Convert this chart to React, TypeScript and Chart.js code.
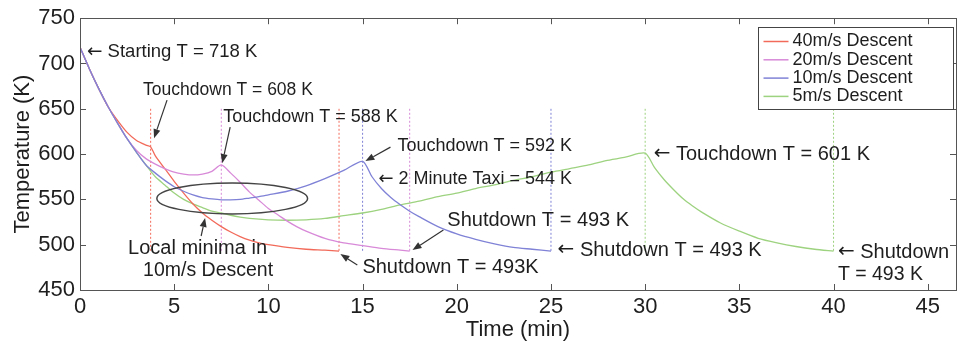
import React, { useEffect, useRef } from 'react';
import { Chart, registerables } from 'chart.js';

Chart.register(...registerables);

// ---------- data ----------
const seriesLabels = ['40m/s Descent', '20m/s Descent', '10m/s Descent', '5m/s Descent'];
const seriesColors = ['#f26a5a', '#d88ad8', '#7f82d6', '#9dd27f'];

const time40 = [0, 0.5, 1, 1.5, 2, 2.5, 3, 3.5, 3.75, 4, 4.5, 5, 5.5, 6, 6.5, 7, 7.5, 8, 8.5, 9, 9.5, 10, 11, 12, 13, 13.75];
const temp40 = [718, 694, 672, 652, 637, 624, 615, 610, 608, 598, 584, 570, 557, 545, 535, 527, 520, 514, 509, 505, 502, 500, 497, 495, 494, 493];

const time20 = [0, 0.5, 1, 1.5, 2, 2.5, 3, 3.5, 4, 4.5, 5, 5.5, 6, 6.5, 7, 7.5, 8, 8.5, 9, 9.5, 10, 10.5, 11, 11.5, 12, 13, 14, 15, 16, 17, 17.5];
const temp20 = [718, 694, 672, 652, 634, 617, 604, 595, 589, 584, 580, 578, 577, 578, 581, 588, 579, 569, 558, 549, 540, 533, 526, 520, 515, 507, 502, 499, 496, 494, 493];

const time10 = [0, 0.5, 1, 1.5, 2, 2.5, 3, 3.5, 4, 4.5, 5, 5.5, 6, 6.5, 7, 7.5, 8, 8.5, 9, 9.5, 10, 11, 12, 13, 14, 15, 15.5, 16, 16.5, 17, 17.5, 18, 19, 20, 21, 22, 23, 24, 25];
const temp10 = [718, 694, 672, 652, 634, 617, 602, 588, 579, 571, 564, 559, 555, 552, 550.5, 549.5, 549.5, 550, 551.5, 553, 555, 559, 565, 573, 582, 592, 575, 562, 552, 544, 537, 531, 520, 512, 506, 501, 497, 495, 493];

const time5 = [0, 0.5, 1, 1.5, 2, 2.5, 3, 3.5, 4, 4.5, 5, 5.5, 6, 6.5, 7, 7.5, 8, 8.5, 9, 10, 11, 12, 13, 14, 15, 16, 17, 18, 19, 20, 21, 22, 23, 24, 25, 26, 27, 28, 29, 30, 30.5, 31, 31.5, 32, 32.5, 33, 34, 35, 36, 37, 38, 39, 40];
const temp5 = [718, 694, 672, 652, 634, 617, 602, 588, 575, 566, 557, 550, 545, 541, 537, 535, 532.5, 530.5, 529, 527.5, 527, 527.5, 529, 532, 535, 539, 544, 548, 553, 557, 562, 566, 571, 575, 580, 584, 588, 593, 597, 601, 585, 572, 561, 551, 543, 536, 524, 515, 507, 502, 498, 495, 493];

// touchdown / shutdown event times (dotted verticals)
const events40 = [3.75, 13.75];
const events20 = [7.5, 17.5];
const events10 = [15, 25];
const events5 = [30, 40];
const markerTopK = 650;
const markerBottomK = 493;

const xTickValues = [0, 5, 10, 15, 20, 25, 30, 35, 40, 45];
const yTickValues = [450, 500, 550, 600, 650, 700, 750];
const xMin = 0;
const xMax = 46.5;
const yMin = 450;
const yMax = 750;

// ellipse around local minima (data units)
const ellipseCenterT = 8.08;
const ellipseCenterK = 551;
const ellipseHalfT = 4.0;
const ellipseHalfK = 17;

// text notes (data coordinates)
const noteTexts = [
  '\u2190 Starting T = 718 K',
  'Touchdown T = 608 K',
  'Touchdown T = 588 K',
  'Touchdown T = 592 K',
  '\u2190 2 Minute Taxi = 544 K',
  'Shutdown T = 493 K',
  '\u2190 Shutdown T = 493 K',
  'Shutdown T = 493K',
  '\u2190 Touchdown T = 601 K',
  '\u2190 Shutdown',
  'T = 493 K',
  'Local minima in',
  '10m/s Descent',
];
const noteT = [0.37, 3.35, 7.6, 16.85, 15.84, 19.5, 25.35, 14.99, 30.45, 40.23, 40.23, 6.24, 6.8];
const noteK = [713, 671, 641, 609, 572.4, 527.2, 494.1, 475.4, 600, 491.9, 466.6, 496.3, 471];
const noteAlign = ['left', 'left', 'left', 'left', 'left', 'left', 'left', 'left', 'left', 'left', 'left', 'center', 'center'];
const noteSize = [18.5, 17.5, 18, 18, 18, 20, 20, 20, 20, 20, 19.5, 20, 19.5];

// arrows (from -> to, data coordinates)
const arrowFromT = [4.62, 7.97, 16.48, 19.29, 14.72, 6.43];
const arrowFromK = [659.6, 629.8, 607.7, 516.2, 477.6, 509.6];
const arrowToT = [3.93, 7.55, 15.15, 17.65, 13.82, 6.64];
const arrowToK = [617.6, 590, 592.3, 494.1, 489.7, 529.4];

// ---------- helpers ----------
const zip = (ts: number[], ks: number[]) => ts.map((t, i) => ({ x: t, y: ks[i] }));

const FONT = '"Liberation Sans", Arial, Helvetica, sans-serif';
const ARROW_FONT = '"DejaVu Sans", sans-serif';
const TEXT_COLOR = '#1e1e1e';
const AXIS_COLOR = '#555555';

const annotationPlugin = {
  id: 'figureAnnotations',
  afterDatasetsDraw(chart: any) {
    const { ctx, chartArea, scales } = chart;
    const xs = scales.x;
    const ys = scales.y;
    const { left, right, top, bottom } = chartArea;
    ctx.save();

    // frame box
    ctx.strokeStyle = AXIS_COLOR;
    ctx.lineWidth = 1;
    ctx.strokeRect(Math.round(left) + 0.5, Math.round(top) + 0.5, Math.round(right - left), Math.round(bottom - top));

    // inward ticks
    const tl = 6;
    ctx.beginPath();
    xTickValues.forEach((v) => {
      const px = Math.round(xs.getPixelForValue(v)) + 0.5;
      ctx.moveTo(px, bottom);
      ctx.lineTo(px, bottom - tl);
      ctx.moveTo(px, top);
      ctx.lineTo(px, top + tl);
    });
    yTickValues.forEach((v) => {
      const py = Math.round(ys.getPixelForValue(v)) + 0.5;
      ctx.moveTo(left, py);
      ctx.lineTo(left + tl, py);
      ctx.moveTo(right, py);
      ctx.lineTo(right - tl, py);
    });
    ctx.stroke();

    // ellipse
    const cx = xs.getPixelForValue(ellipseCenterT);
    const cy = ys.getPixelForValue(ellipseCenterK);
    const rx = xs.getPixelForValue(ellipseCenterT + ellipseHalfT) - cx;
    const ry = cy - ys.getPixelForValue(ellipseCenterK + ellipseHalfK);
    ctx.beginPath();
    ctx.ellipse(cx, cy, rx, ry, 0, 0, Math.PI * 2);
    ctx.strokeStyle = '#444444';
    ctx.lineWidth = 1.5;
    ctx.stroke();

    // arrows
    ctx.strokeStyle = '#333333';
    ctx.fillStyle = '#333333';
    ctx.lineWidth = 1.2;
    arrowFromT.forEach((_, i) => {
      const x1 = xs.getPixelForValue(arrowFromT[i]);
      const y1 = ys.getPixelForValue(arrowFromK[i]);
      const x2 = xs.getPixelForValue(arrowToT[i]);
      const y2 = ys.getPixelForValue(arrowToK[i]);
      const ang = Math.atan2(y2 - y1, x2 - x1);
      const hl = 9;
      const hw = 3.5;
      const bx = x2 - hl * Math.cos(ang);
      const by = y2 - hl * Math.sin(ang);
      ctx.beginPath();
      ctx.moveTo(x1, y1);
      ctx.lineTo(bx, by);
      ctx.stroke();
      ctx.beginPath();
      ctx.moveTo(x2, y2);
      ctx.lineTo(bx + hw * Math.sin(ang), by - hw * Math.cos(ang));
      ctx.lineTo(bx - hw * Math.sin(ang), by + hw * Math.cos(ang));
      ctx.closePath();
      ctx.fill();
    });

    // notes
    ctx.fillStyle = TEXT_COLOR;
    ctx.textBaseline = 'middle';
    noteTexts.forEach((txt, i) => {
      const px = xs.getPixelForValue(noteT[i]);
      const py = ys.getPixelForValue(noteK[i]);
      const size = noteSize[i];
      if (txt.startsWith('\u2190') && noteAlign[i] === 'left') {
        ctx.textAlign = 'left';
        ctx.font = `${size}px ${ARROW_FONT}`;
        ctx.fillText('\u2190', px, py);
        const aw = ctx.measureText('\u2190').width;
        ctx.font = `${size}px ${FONT}`;
        ctx.fillText(txt.slice(1), px + aw, py);
      } else {
        ctx.textAlign = noteAlign[i] as CanvasTextAlign;
        ctx.font = `${size}px ${FONT}`;
        ctx.fillText(txt, px, py);
      }
    });

    // legend (inside, top-right)
    const lw = 195;
    const lh = 82;
    const lx = Math.round(right - lw - 3) + 0.5;
    const ly = Math.round(top + 9) + 0.5;
    ctx.fillStyle = '#ffffff';
    ctx.fillRect(lx, ly, lw, lh);
    ctx.strokeStyle = '#444444';
    ctx.lineWidth = 1;
    ctx.strokeRect(lx, ly, lw, lh);
    ctx.font = `18px ${FONT}`;
    ctx.textAlign = 'left';
    ctx.textBaseline = 'middle';
    seriesLabels.forEach((lab, i) => {
      const yy = ly + 14 + i * 18.3;
      ctx.strokeStyle = seriesColors[i];
      ctx.lineWidth = 1.5;
      ctx.beginPath();
      ctx.moveTo(lx + 5, yy);
      ctx.lineTo(lx + 30, yy);
      ctx.stroke();
      ctx.fillStyle = TEXT_COLOR;
      ctx.fillText(lab, lx + 34, yy);
    });

    ctx.restore();
  },
};

export default function App() {
  const canvasRef = useRef<HTMLCanvasElement | null>(null);

  useEffect(() => {
    document.body.style.margin = '0';
    const canvas = canvasRef.current;
    if (!canvas) return;

    const curves = [
      zip(time40, temp40),
      zip(time20, temp20),
      zip(time10, temp10),
      zip(time5, temp5),
    ];
    const curveOrder = [2, 1, 0, 3];
    const eventSets = [events40, events20, events10, events5];

    const datasets: any[] = [];
    curves.forEach((pts, i) => {
      datasets.push({
        label: seriesLabels[i],
        data: pts,
        borderColor: seriesColors[i],
        backgroundColor: seriesColors[i],
        borderWidth: 1.3,
        pointRadius: 0,
        tension: 0.25,
        fill: false,
        order: curveOrder[i],
      });
    });
    eventSets.forEach((evs, i) => {
      evs.forEach((t) => {
        datasets.push({
          label: '',
          data: [
            { x: t, y: markerTopK },
            { x: t, y: markerBottomK },
          ],
          borderColor: seriesColors[i],
          borderWidth: 1,
          borderDash: [2, 2],
          pointRadius: 0,
          tension: 0,
          fill: false,
          order: 10,
        });
      });
    });

    const tickFont = { family: FONT, size: 22 };

    const chart = new Chart(canvas, {
      type: 'line',
      data: { datasets },
      plugins: [annotationPlugin],
      options: {
        responsive: false,
        animation: false,
        devicePixelRatio: 1,
        layout: { padding: { top: 18, right: 5, left: 0, bottom: 0 } },
        plugins: { legend: { display: false }, tooltip: { enabled: false } },
        elements: { point: { radius: 0 } },
        scales: {
          x: {
            type: 'linear',
            min: xMin,
            max: xMax,
            grid: { display: false, drawTicks: false },
            border: { display: false },
            ticks: { font: tickFont, color: TEXT_COLOR, padding: 4, maxRotation: 0, autoSkip: false },
            afterBuildTicks: (s: any) => {
              s.ticks = xTickValues.map((v) => ({ value: v }));
            },
            afterFit: (s: any) => {
              s.height = 54;
            },
            title: {
              display: true,
              text: 'Time (min)',
              font: tickFont,
              color: TEXT_COLOR,
              padding: { top: 0, bottom: 1 },
            },
          },
          y: {
            type: 'linear',
            min: yMin,
            max: yMax,
            grid: { display: false, drawTicks: false },
            border: { display: false },
            ticks: { font: tickFont, color: TEXT_COLOR, padding: 5, autoSkip: false },
            afterBuildTicks: (s: any) => {
              s.ticks = yTickValues.map((v) => ({ value: v }));
            },
            afterFit: (s: any) => {
              s.width = 80;
            },
            title: {
              display: true,
              text: 'Temperature (K)',
              font: tickFont,
              color: TEXT_COLOR,
              padding: { top: 10, bottom: 0 },
            },
          },
        },
      } as any,
    });

    return () => {
      chart.destroy();
    };
  }, []);

  return (
    <div style={{ width: 961, height: 344 }}>
      <canvas ref={canvasRef} width={961} height={344} style={{ display: 'block' }} />
    </div>
  );
}
